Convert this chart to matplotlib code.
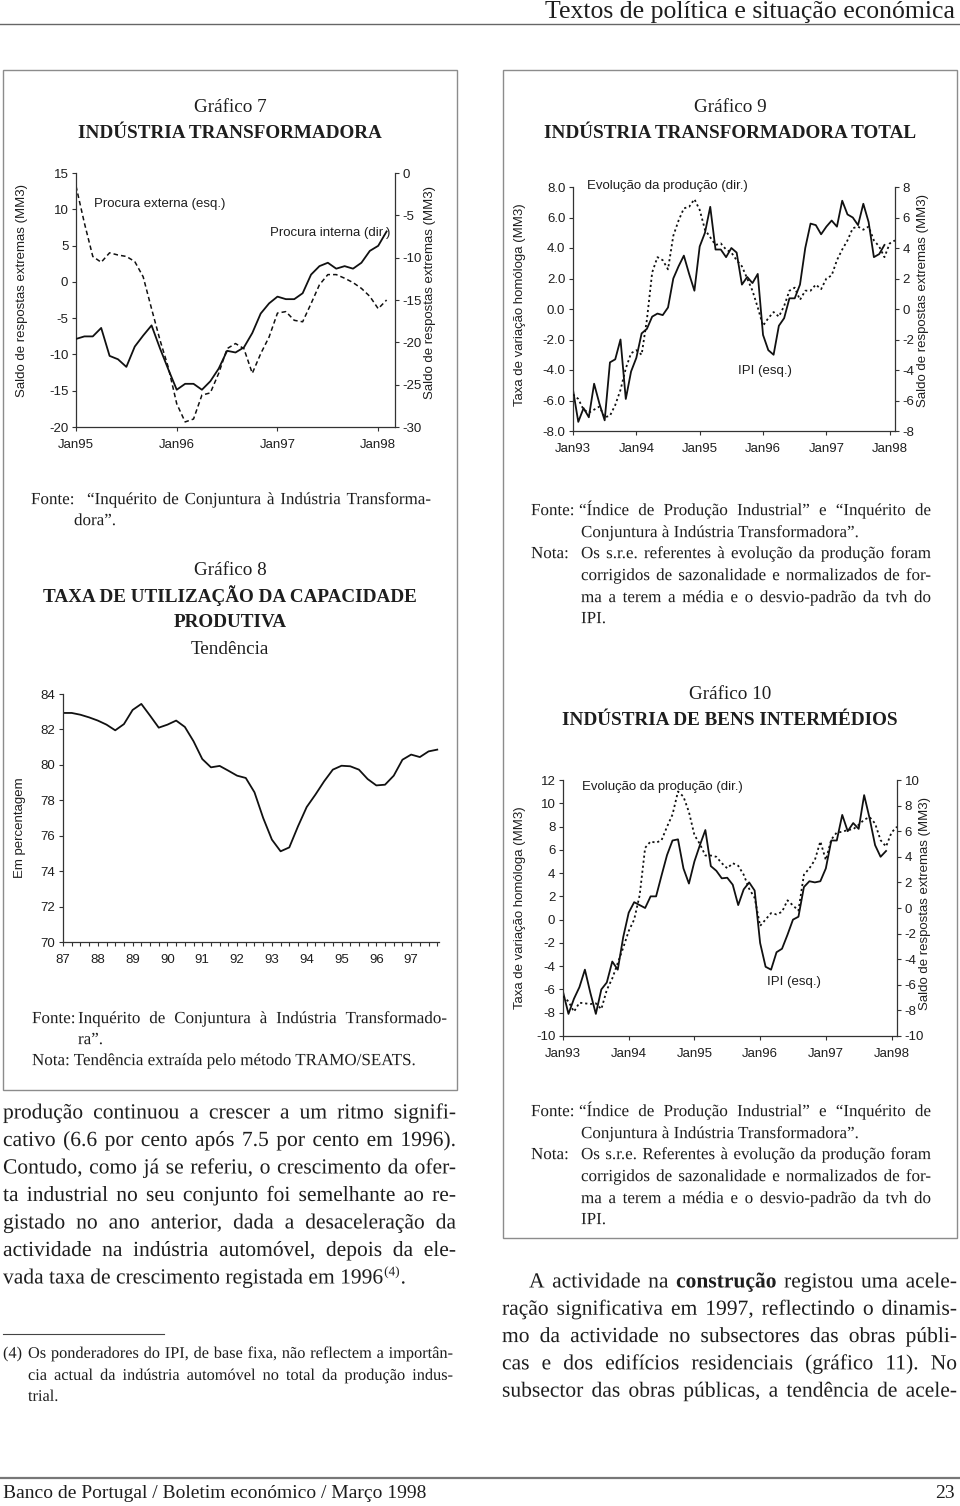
import matplotlib
matplotlib.use("Agg")
import matplotlib.pyplot as plt
from matplotlib.patches import Rectangle, PathPatch
from matplotlib.textpath import TextPath, text_to_path
from matplotlib.font_manager import FontProperties
from matplotlib.transforms import Affine2D

W, H = 960, 1506
SERIF = "Liberation Serif"
SANS = "Liberation Sans"
INK = "#1e1e1e"
GREY = "#8c8c8c"
plt.rcParams["font.family"] = SANS
plt.rcParams["axes.unicode_minus"] = False

# ---------------- dados ----------------
# Gráfico 7 (Jan95 - Fev98, mensal)
anos7 = ["Jan95", "Jan96", "Jan97", "Jan98"]
procura_externa = [13.2, 8.1, 3.5, 2.7, 4.0, 3.7, 3.5, 2.8, 0.7, -3.7,
                   -8.0, -11.8, -16.8, -19.3, -18.9, -15.6, -15.3, -12.6, -9.2, -8.5,
                   -9.2, -12.6, -9.9, -7.6, -4.3, -4.1, -5.3, -5.5, -3.0, -0.4,
                   1.0, 1.0, 0.5, -0.1, -0.9, -2.0, -3.7, -2.5]
procura_interna = [-19.6, -19.3, -19.3, -18.3, -21.6, -22.0, -22.9, -20.5, -19.2, -18.0,
                   -20.7, -23.2, -25.6, -24.9, -24.9, -25.6, -24.6, -23.1, -21.0, -21.2,
                   -20.6, -18.9, -16.6, -15.4, -14.6, -14.9, -14.9, -14.2, -12.0, -11.0,
                   -10.6, -11.3, -11.0, -11.3, -10.6, -9.2, -8.6, -6.9]

# Gráfico 9 (Jan93 - Fev98, mensal)
anos9 = ["Jan93", "Jan94", "Jan95", "Jan96", "Jan97", "Jan98"]
ipi9 = [-5.3, -7.4, -6.5, -7.1, -4.9, -6.2, -7.3, -3.5, -3.3, -2.0,
        -5.9, -4.1, -3.2, -1.6, -1.3, -0.5, -0.3, -0.4, 0.1, 2.0,
        2.8, 3.5, 2.3, 1.2, 4.1, 5.0, 6.7, 3.9, 3.9, 3.4,
        4.0, 3.7, 1.6, 2.1, 1.7, 2.3, -1.7, -2.7, -3.0, -1.1,
        -0.6, 0.7, 0.7, 1.6, 4.0, 5.6, 5.5, 4.9, 5.4, 5.8,
        5.4, 7.1, 6.2, 6.0, 5.5, 6.9, 5.7, 3.4, 3.6, 4.2]
producao9 = [-5.6, -5.9, -6.6, -6.8, -6.6, -6.4, -7.1, -7.0, -6.3, -5.3,
             -3.9, -2.9, -2.7, -3.0, -0.7, 2.4, 3.4, 3.2, 2.6, 4.8,
             5.8, 6.6, 6.7, 7.2, 6.5, 5.2, 4.7, 4.2, 4.3, 3.9,
             3.7, 3.2, 2.8, 2.0, 1.2, 0.1, -1.1, -0.6, -0.2, -0.5,
             0.2, 1.2, 1.4, 0.6, 1.2, 1.2, 1.6, 1.3, 2.0, 2.2,
             3.2, 3.9, 4.5, 5.3, 5.4, 5.2, 5.4, 4.5, 4.1, 3.4,
             4.3, 4.5]

# Gráfico 8 (87T1 - 97T4, trimestral)
anos8 = ["87", "88", "89", "90", "91", "92", "93", "94", "95", "96", "97"]
utilizacao = [82.93, 82.93, 82.83, 82.68, 82.5, 82.27, 81.95, 82.3, 83.1, 83.44,
              82.78, 82.1, 82.27, 82.5, 82.14, 81.33, 80.33, 79.86, 79.94, 79.67,
              79.39, 79.26, 78.45, 77.0, 75.78, 75.12, 75.34, 76.53, 77.62, 78.32,
              79.07, 79.73, 79.95, 79.92, 79.73, 79.2, 78.84, 78.88, 79.39, 80.29,
              80.58, 80.44, 80.76, 80.86]

# Gráfico 10 (Jan93 - Fev98, mensal)
ipi10 = [-6.2, -8.1, -6.8, -5.8, -4.3, -6.3, -8.1, -6.0, -5.4, -3.6,
         -4.3, -1.5, 0.6, 1.5, 1.25, 1.0, 2.0, 2.0, 3.8, 5.55,
         6.8, 6.9, 4.4, 3.1, 5.0, 6.4, 7.7, 4.6, 4.2, 3.55,
         3.6, 3.0, 1.25, 2.6, 3.2, 2.5, -2.0, -4.05, -4.3, -2.8,
         -2.5, -1.3, 0.0, 0.25, 2.8, 3.3, 3.2, 3.3, 4.4, 6.8,
         6.8, 9.0, 7.6, 8.3, 7.8, 10.7, 8.7, 6.4, 5.4, 5.9]
producao10 = [-6.9, -7.3, -8.1, -7.4, -7.45, -7.5, -7.45, -7.9, -6.4, -5.5,
              -4.3, -3.1, -1.8, -0.9, 1.0, 4.7, 5.2, 5.1, 5.3, 6.35,
              7.3, 9.1, 8.7, 7.5, 5.7, 5.0, 4.1, 4.1, 4.0, 3.5,
              3.1, 3.5, 3.3, 2.6, 1.5, 0.8, -1.4, -0.9, -0.4, -0.5,
              -0.3, 0.6, 0.2, -0.2, 2.6, 3.1, 3.75, 5.2, 3.75, 5.35,
              5.9, 5.95, 6.1, 6.15, 6.5, 6.9, 7.1, 6.6, 5.3, 4.8,
              5.9, 6.35]

# ---------------- página ----------------
fig = plt.figure(figsize=(W / 100, H / 100), dpi=100)
pg = fig.add_axes([0, 0, 1, 1])
pg.set_xlim(0, W)
pg.set_ylim(H, 0)
pg.axis("off")


def fonte(size, bold=False):
    # tamanho em pontos -> unidades de pixel da página
    return FontProperties(family=SERIF, size=size * 100 / 72,
                          weight="bold" if bold else "normal")


def largura(s, size, bold=False):
    w, _, _ = text_to_path.get_text_width_height_descent(s, fonte(size, bold), ismath=False)
    return w


def escreve(s, x, yb, size, bold=False):
    tp = TextPath((0, 0), s, prop=fonte(size, bold))
    path = Affine2D().scale(1, -1).translate(x, yb).transform_path(tp)
    pg.add_patch(PathPatch(path, fc=INK, ec="none", lw=0))


def linha(s, x0, y, x1=None, size=11.5, bold=()):
    # y = centro visual da linha
    yb = y + 0.3 * size * 100 / 72
    if x1 is None:
        escreve(s, x0, yb, size)
        return
    palavras = s.split()
    ws = [largura(p, size, p in bold) for p in palavras]
    gap = (x1 - x0 - sum(ws)) / (len(palavras) - 1)
    x = x0
    for p, wd in zip(palavras, ws):
        escreve(p, x, yb, size, p in bold)
        x += wd + gap


def ajusta(pares, base):
    # maior tamanho em que todas as linhas cabem na largura disponível
    s = base
    while s > 6 and any(largura(t, s) > w - 6 for t, w in pares):
        s -= 0.25
    return s


def titulo(s, x, y, size=13.8, bold=False):
    pg.text(x, y, s, family=SERIF, size=size, color=INK, ha="center", va="center",
            weight="bold" if bold else "normal")


# cabeçalho e rodapé
pg.text(955, 12, "Textos de política e situação económica", family=SERIF, size=18.5,
        color=INK, ha="right", va="center")
pg.plot([0, W], [24, 24], color="#666666", lw=1.0)
pg.plot([0, W], [1478, 1478], color="#777777", lw=1.6)
pg.text(3, 1494, "Banco de Portugal / Boletim económico / Março 1998", family=SERIF,
        size=14, color=INK, ha="left", va="center")
pg.text(955, 1494, "23", family=SERIF, size=14, color=INK, ha="right", va="center")

# caixas
pg.add_patch(Rectangle((3, 70), 454, 1020, fill=False, ec=GREY, lw=1.0))
pg.add_patch(Rectangle((503, 70), 454, 1168, fill=False, ec=GREY, lw=1.0))

titulo("Gráfico 7", 230, 107)
titulo("INDÚSTRIA TRANSFORMADORA", 230, 133, bold=True)
titulo("Gráfico 9", 730, 107)
titulo("INDÚSTRIA TRANSFORMADORA TOTAL", 730, 133, bold=True)
titulo("Gráfico 8", 230, 570)
titulo("TAXA DE UTILIZAÇÃO DA CAPACIDADE", 230, 596, bold=True)
titulo("PRODUTIVA", 230, 622, bold=True)
titulo("Tendência", 230, 649)
titulo("Gráfico 10", 730, 694)
titulo("INDÚSTRIA DE BENS INTERMÉDIOS", 730, 720, bold=True)

# notas dos gráficos
nota_a = ("“Inquérito de Conjuntura à Indústria Transforma-", 87, 431)
nota_b = ("Inquérito de Conjuntura à Indústria Transformado-", 78, 447)
nota_c = ["“Índice de Produção Industrial” e “Inquérito de",
          "Os s.r.e. referentes à evolução da produção foram",
          "corrigidos de sazonalidade e normalizados de for-",
          "ma a terem a média e o desvio-padrão da tvh do"]
cs = ajusta([(nota_a[0], nota_a[2] - nota_a[1]), (nota_b[0], nota_b[2] - nota_b[1])]
            + [(t, 931 - 581) for t in nota_c], 12.5)

linha("Fonte:", 31, 499, size=cs)
linha(nota_a[0], nota_a[1], 499, nota_a[2], size=cs)
linha("dora”.", 74, 520, size=cs)

linha("Fonte:", 32, 1018, size=cs)
linha(nota_b[0], nota_b[1], 1018, nota_b[2], size=cs)
linha("ra”.", 78, 1039, size=cs)
linha("Nota: Tendência extraída pelo método TRAMO/SEATS.", 32, 1060, size=cs)

for y0, ref in [(510, "referentes"), (1111, "Referentes")]:
    linha("Fonte:", 531, y0, size=cs)
    linha(nota_c[0], 579, y0, 931, size=cs)
    linha("Conjuntura à Indústria Transformadora”.", 581, y0 + 22, size=cs)
    linha("Nota:", 531, y0 + 43, size=cs)
    linha(nota_c[1].replace("referentes", ref), 581, y0 + 43, 931, size=cs)
    linha(nota_c[2], 581, y0 + 65, 931, size=cs)
    linha(nota_c[3], 581, y0 + 87, 931, size=cs)
    linha("IPI.", 581, y0 + 108, size=cs)

# texto corrido
corpo = ["produção continuou a crescer a um ritmo signifi-",
         "cativo (6.6 por cento após 7.5 por cento em 1996).",
         "Contudo, como já se referiu, o crescimento da ofer-",
         "ta industrial no seu conjunto foi semelhante ao re-",
         "gistado no ano anterior, dada a desaceleração da",
         "actividade na indústria automóvel, depois da ele-"]
direita = ["A actividade na construção registou uma acele-",
           "ração significativa em 1997, reflectindo o dinamis-",
           "mo da actividade no subsectores das obras públi-",
           "cas e  dos edifícios residenciais (gráfico 11). No",
           "subsector das obras públicas, a tendência de acele-"]
bs = ajusta([(t, 453) for t in corpo] + [(direita[0], 428)]
            + [(t, 455) for t in direita[1:]], 15.5)

for i, s in enumerate(corpo):
    linha(s, 3, 1112 + 27.5 * i, 456, size=bs)
ult = "vada taxa de crescimento registada em 1996"
yl = 1112 + 27.5 * 6
linha(ult, 3, yl, size=bs)
xs = 3 + largura(ult, bs)
ybl = yl + 0.3 * bs * 100 / 72
escreve("(4)", xs + 1, ybl - 8, 9.5)
escreve(".", xs + 2 + largura("(4)", 9.5), ybl, bs)

for i, s in enumerate(direita):
    linha(s, 529 if i == 0 else 502, 1281 + 27.3 * i, 957, size=bs, bold=("construção",))

rodape = ["Os ponderadores do IPI, de base fixa, não reflectem a importân-",
          "cia actual da indústria automóvel no total da produção indus-"]
fs = ajusta([(t, 425) for t in rodape], 12)
pg.plot([3, 164], [1334, 1334], color="#444444", lw=0.8)
linha("(4)", 3, 1353, size=fs)
linha(rodape[0], 28, 1353, 453, size=fs)
linha(rodape[1], 28, 1375, 453, size=fs)
linha("trial.", 28, 1396, size=fs)


# ---------------- gráficos ----------------
def eixo(l, t, r, b):
    ax = fig.add_axes([l / W, 1 - b / H, (r - l) / W, (b - t) / H])
    ax.patch.set_visible(False)
    return ax


def estilo(ax, lados):
    for s in ["top", "bottom", "left", "right"]:
        ax.spines[s].set_visible(s in lados)
        ax.spines[s].set_linewidth(0.9)
        ax.spines[s].set_color("#333333")
    ax.tick_params(axis="both", labelsize=9.5, length=3, width=0.8, colors="#333333",
                   labelcolor=INK)
    ax.tick_params(axis="y", pad=2.5)
    ax.tick_params(axis="x", pad=5.5)


def ylabel(x, y, s):
    pg.text(x, y, s, family=SANS, size=9.5, color=INK, rotation=90, ha="center", va="center")


def nota(x, y, s):
    pg.text(x, y, s, family=SANS, size=9.5, color=INK, ha="left", va="center")


PONTILHADO = (0, (1.2, 1.6))

# Gráfico 7
ax = eixo(76, 173, 395, 427)
ax.plot(range(len(procura_externa)), procura_externa, color="#111111", lw=1.1,
        ls=(0, (3, 2)))
ax.set_ylim(-20, 15)
ax.set_yticks(range(-20, 16, 5))
ax.set_xlim(0, 38)
ax.set_xticks([0, 12, 24, 36])
ax.set_xticklabels(anos7)
estilo(ax, ["left", "bottom"])
ax2 = ax.twinx()
ax2.plot(range(len(procura_interna)), procura_interna, color="#111111", lw=1.3)
ax2.set_ylim(-30, 0)
ax2.set_yticks(range(-30, 1, 5))
estilo(ax2, ["right"])
ylabel(22, 290, "Saldo de respostas extremas (MM3)")
ylabel(430, 292, "Saldo de respostas extremas (MM3)")
nota(94, 204, "Procura externa (esq.)")
nota(270, 233, "Procura interna (dir.)")

# Gráfico 9
ax = eixo(573, 187, 895, 431)
ax.plot(range(len(ipi9)), ipi9, color="#111111", lw=1.3)
ax.set_ylim(-8, 8)
ax.set_yticks(range(-8, 9, 2))
ax.set_yticklabels([f"{v:.1f}" for v in range(-8, 9, 2)])
ax.set_xlim(0, 61)
ax.set_xticks([0, 12, 24, 36, 48, 60])
ax.set_xticklabels(anos9)
estilo(ax, ["left", "bottom"])
ax2 = ax.twinx()
ax2.plot(range(len(producao9)), producao9, color="#111111", lw=1.3, ls=PONTILHADO)
ax2.set_ylim(-8, 8)
ax2.set_yticks(range(-8, 9, 2))
estilo(ax2, ["right"])
ylabel(520, 305, "Taxa de variação homóloga (MM3)")
ylabel(923, 300, "Saldo de respostas extremas (MM3)")
nota(587, 186, "Evolução da produção (dir.)")
nota(738, 371, "IPI (esq.)")

# Gráfico 8
ax = eixo(63, 694, 439, 942)
ax.plot(range(len(utilizacao)), utilizacao, color="#111111", lw=1.3)
ax.set_ylim(70, 84)
ax.set_yticks(range(70, 85, 2))
ax.set_xlim(0, 43.2)
ax.set_xticks(range(0, 44, 4))
ax.set_xticklabels(anos8)
ax.set_xticks(range(44), minor=True)
estilo(ax, ["left", "bottom"])
ax.tick_params(axis="x", which="minor", length=3, width=0.8, colors="#333333")
ylabel(20, 828, "Em percentagem")

# Gráfico 10
ax = eixo(563, 780, 897, 1036)
ax.plot(range(len(ipi10)), ipi10, color="#111111", lw=1.3)
ax.set_ylim(-10, 12)
ax.set_yticks(range(-10, 13, 2))
ax.set_xlim(0, 61)
ax.set_xticks([0, 12, 24, 36, 48, 60])
ax.set_xticklabels(anos9)
estilo(ax, ["left", "bottom"])
ax2 = ax.twinx()
ax2.plot(range(len(producao10)), producao10, color="#111111", lw=1.3, ls=PONTILHADO)
ax2.set_ylim(-10, 10)
ax2.set_yticks(range(-10, 11, 2))
estilo(ax2, ["right"])
ylabel(520, 908, "Taxa de variação homóloga (MM3)")
ylabel(925, 903, "Saldo de respostas extremas (MM3)")
nota(582, 787, "Evolução da produção (dir.)")
nota(767, 982, "IPI (esq.)")

fig.savefig("out.png", dpi=100)
